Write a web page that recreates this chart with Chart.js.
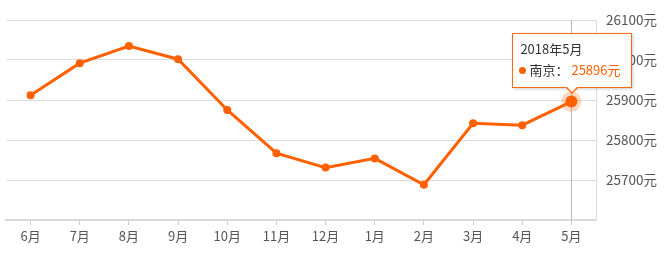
<!DOCTYPE html>
<html>
<head>
<meta charset="utf-8">
<script src="https://cdn.jsdelivr.net/npm/chart.js@4.4.0/dist/chart.umd.min.js"></script>
<style>
  html, body { margin:0; padding:0; background:#fff; }
  #wrap { position:relative; width:668px; height:256px; }
  #tip {
    position:absolute; box-sizing:border-box; width:120px; height:55px;
    background:#fff; border:1px solid #ff6a0f; box-shadow:1px 1px 3px rgba(0,0,0,0.2);
    font-family:'Noto Sans CJK SC', sans-serif; font-size:13px; color:#333;
    pointer-events:none; display:none;
  }
  #tip .t { position:absolute; left:7px; top:6px; line-height:17px; white-space:nowrap; }
  #tip .r { position:absolute; left:6px; top:27px; line-height:17px; white-space:nowrap; }
  #tip .dot { display:inline-block; width:7px; height:7px; border-radius:50%; background:#ff6000; margin-right:3px; vertical-align:1px; }
  #tip .v { color:#ff6000; margin-left:3px; }
  #tip .a1, #tip .a2 { position:absolute; width:0; height:0; left:50%; }
  #tip .a1 { bottom:-7px; margin-left:-7px; border-left:7px solid transparent; border-right:7px solid transparent; border-top:7px solid #ff6a0f; }
  #tip .a2 { bottom:-5px; margin-left:-6px; border-left:6px solid transparent; border-right:6px solid transparent; border-top:6px solid #fff; }
</style>
</head>
<body>
<div id="wrap">
  <canvas id="c" width="668" height="256"></canvas>
  <div id="tip"><div class="t"></div><div class="r"></div><div class="a1"></div><div class="a2"></div></div>
</div>
<script>
const categories = ['6月','7月','8月','9月','10月','11月','12月','1月','2月','3月','4月','5月'];
const tooltipTitles = ['2017年6月','2017年7月','2017年8月','2017年9月','2017年10月','2017年11月','2017年12月','2018年1月','2018年2月','2018年3月','2018年4月','2018年5月'];
const seriesName = '南京';
const prices = [25912, 25992, 26035, 26002, 25875, 25767, 25731, 25754, 25688, 25842, 25837, 25896];
const yTicks = [25600, 25700, 25800, 25900, 26000, 26100];
const activeIndex = 11;

const FONT = "'Noto Sans CJK SC', sans-serif";
const ORANGE = '#ff6000';

const hoverLine = {
  id: 'hoverLine',
  beforeDatasetsDraw(chart) {
    const x = chart.scales.x.getPixelForValue(activeIndex);
    const {top, bottom} = chart.chartArea;
    const ctx = chart.ctx;
    ctx.save();
    ctx.strokeStyle = '#bbbbbb';
    ctx.lineWidth = 1;
    ctx.beginPath();
    ctx.moveTo(Math.round(x) + 0.5, top);
    ctx.lineTo(Math.round(x) + 0.5, bottom);
    ctx.stroke();
    ctx.restore();
  }
};

function externalTip(context) {
  const {chart, tooltip} = context;
  const el = document.getElementById('tip');
  if (tooltip.opacity === 0 || !tooltip.dataPoints || !tooltip.dataPoints.length) { el.style.display = 'none'; return; }
  const dp = tooltip.dataPoints[0];
  el.querySelector('.t').textContent = tooltipTitles[dp.dataIndex];
  el.querySelector('.r').innerHTML = '<span class="dot"></span>' + seriesName + '：<span class="v">' + prices[dp.dataIndex] + '元</span>';
  el.style.display = 'block';
  const px = dp.element.x, py = dp.element.y;
  el.style.left = (px - 59) + 'px';
  el.style.top = (py - 69) + 'px';
}

const chart = new Chart(document.getElementById('c'), {
  type: 'line',
  data: {
    labels: categories,
    datasets: [{
      label: seriesName,
      data: prices,
      borderColor: ORANGE,
      backgroundColor: ORANGE,
      borderWidth: 3,
      pointRadius: 4,
      pointBorderWidth: 0,
      pointBackgroundColor: ORANGE,
      pointHoverRadius: 6,
      pointHoverBorderWidth: 8,
      pointHoverBorderColor: 'rgba(255,96,0,0.25)',
      pointHoverBackgroundColor: ORANGE,
      tension: 0,
      fill: false
    }]
  },
  options: {
    responsive: false,
    animation: false,
    events: [],
    layout: { padding: { left: 6, top: 20, right: 0, bottom: 0 } },
    plugins: {
      legend: { display: false },
      tooltip: { enabled: false, external: externalTip, mode: 'index', intersect: false }
    },
    scales: {
      x: {
        type: 'category',
        offset: true,
        grid: { drawOnChartArea: false, drawTicks: true, tickLength: 5, offset: false, color: '#cccccc' },
        border: { color: '#d9d9d9', width: 2 },
        ticks: { color: '#555555', font: { family: FONT, size: 13 }, padding: 3, maxRotation: 0, autoSkip: false },
        afterFit(s) { s.height = 36; }
      },
      y: {
        position: 'right',
        min: yTicks[0],
        max: yTicks[yTicks.length - 1],
        afterBuildTicks(s) { s.ticks = yTicks.map(v => ({ value: v })); },
        grid: { color: '#dddddd', drawTicks: false },
        border: { color: '#dddddd', width: 1 },
        ticks: {
          color: '#555555', font: { family: FONT, size: 13.5 }, padding: 10,
          callback: v => (v === yTicks[0] ? '' : v + '元')
        },
        afterFit(s) { s.width = 72; }
      }
    }
  },
  plugins: [hoverLine]
});

const act = [{ datasetIndex: 0, index: activeIndex }];
chart.setActiveElements(act);
const m = chart.getDatasetMeta(0).data[activeIndex];
chart.tooltip.setActiveElements(act, { x: m.x, y: m.y });
chart.update('none');
</script>
</body>
</html>
